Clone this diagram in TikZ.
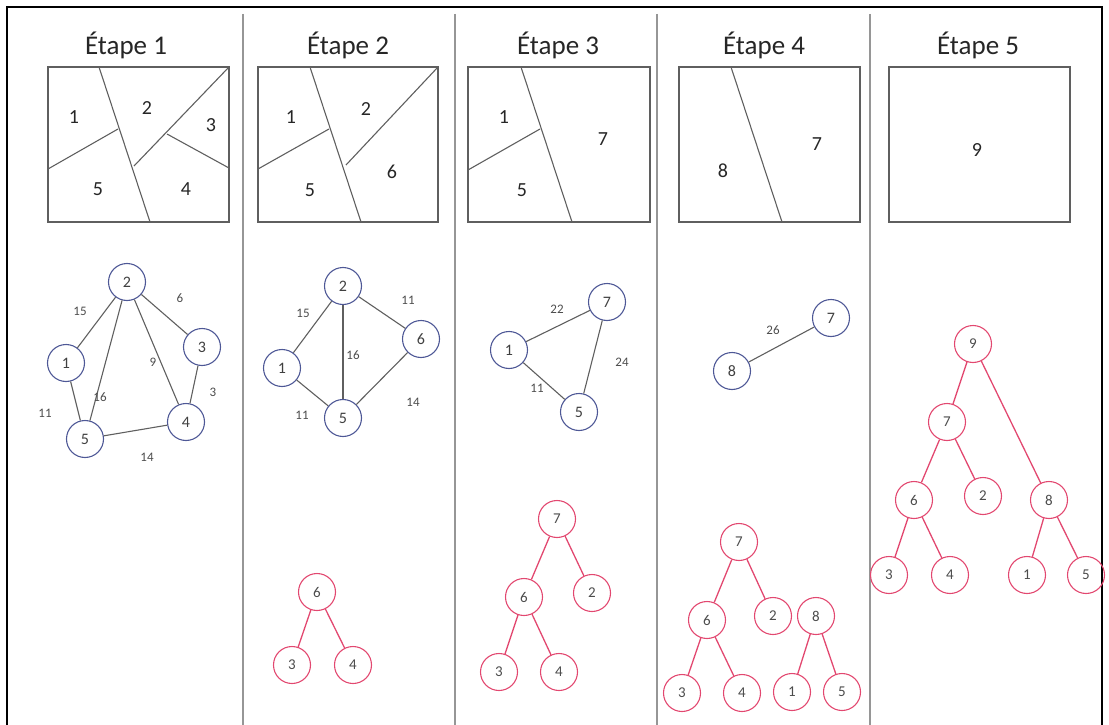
\documentclass[tikz,border=0pt]{standalone}
\usepackage{fontspec}
\setmainfont{Carlito}
\definecolor{bleu}{RGB}{78,88,150}
\definecolor{rose}{RGB}{226,72,112}
\definecolor{trait}{RGB}{95,95,95}
\definecolor{sep}{RGB}{150,150,150}
\tikzset{
  titre/.style={font=\fontsize{27}{30}\selectfont, text=black!85},
  region/.style={font=\fontsize{20}{22}\selectfont, text=black!85},
  carte/.style={draw=trait, line width=1.6pt},
  coupe/.style={draw=trait, line width=1.1pt},
  sommet/.style={circle, draw=bleu, line width=1.1pt, minimum size=37pt, inner sep=0pt, font=\fontsize{16}{18}\selectfont, text=black!75},
  poids/.style={font=\fontsize{13}{15}\selectfont, text=black!70},
  arete/.style={draw=trait, line width=1.1pt},
  feuille/.style={circle, draw=rose, line width=1.1pt, minimum size=37pt, inner sep=0pt, font=\fontsize{15}{17}\selectfont, text=black!70},
  branche/.style={draw=rose, line width=1.3pt}
}
\begin{document}
\begin{tikzpicture}[x=1pt, y=-1pt]
\useasboundingbox (0,0) rectangle (1109,725);
\draw[black, line width=1.4pt] (7,7) rectangle (1102,728);
\foreach \x in {243,455,657,870}
  \draw[sep, line width=2.2pt] (\x,14) -- (\x,725);

\node[titre] (t1) at (126,45) {Étape 1};
\node[titre] (t2) at (348,45) {Étape 2};
\node[titre] (t3) at (558,45) {Étape 3};
\node[titre] (t4) at (764,45) {Étape 4};
\node[titre] (t5) at (978,45) {Étape 5};

% cartes
\draw[carte] (48,67) rectangle (229,222);
\draw[coupe] (99,67) -- (150,222);
\draw[coupe] (48,169) -- (118,129);
\draw[coupe] (229,67) -- (134,166);
\draw[coupe] (167,134) -- (229,168);
\node[region] (r1a) at (74,117) {1};
\node[region] (r1b) at (147,108) {2};
\node[region] (r1c) at (211,125) {3};
\node[region] (r1d) at (186,189) {4};
\node[region] (r1e) at (98,189) {5};

\draw[carte] (258,67) rectangle (438,222);
\draw[coupe] (310,67) -- (361,222);
\draw[coupe] (258,169) -- (329,129);
\draw[coupe] (438,67) -- (346,165);
\node[region] (r2a) at (291,117) {1};
\node[region] (r2b) at (366,109) {2};
\node[region] (r2c) at (310,190) {5};
\node[region] (r2d) at (392,172) {6};

\draw[carte] (468,67) rectangle (650,222);
\draw[coupe] (521,67) -- (572,222);
\draw[coupe] (468,170) -- (540,129);
\node[region] (r3a) at (504,117) {1};
\node[region] (r3b) at (522,190) {5};
\node[region] (r3c) at (603,139) {7};

\draw[carte] (679,67) rectangle (860,222);
\draw[coupe] (731,67) -- (782,222);
\node[region] (r4a) at (723,171) {8};
\node[region] (r4b) at (817,144) {7};

\draw[carte] (889,67) rectangle (1070,222);
\node[region] (r5a) at (977,150) {9};

% graphes
\node[sommet] (a2) at (127,282) {2};
\node[sommet] (a1) at (66,363) {1};
\node[sommet] (a3) at (202,347) {3};
\node[sommet] (a4) at (186,422) {4};
\node[sommet] (a5) at (85,439) {5};
\draw[arete] (a2) -- (a1);
\draw[arete] (a2) -- (a3);
\draw[arete] (a2) -- (a4);
\draw[arete] (a2) -- (a5);
\draw[arete] (a1) -- (a5);
\draw[arete] (a3) -- (a4);
\draw[arete] (a5) -- (a4);
\node[poids] at (80,311) {15};
\node[poids] at (180,298) {6};
\node[poids] at (153,362) {9};
\node[poids] at (100,397) {16};
\node[poids] at (45,413) {11};
\node[poids] at (213,392) {3};
\node[poids] at (147,457) {14};

\node[sommet] (b2) at (343,286) {2};
\node[sommet] (b1) at (282,368) {1};
\node[sommet] (b6) at (421,339) {6};
\node[sommet] (b5) at (343,418) {5};
\draw[arete] (b2) -- (b1);
\draw[arete] (b2) -- (b6);
\draw[arete] (b2) -- (b5);
\draw[arete] (b1) -- (b5);
\draw[arete] (b6) -- (b5);
\node[poids] at (303,313) {15};
\node[poids] at (408,300) {11};
\node[poids] at (353,355) {16};
\node[poids] at (302,415) {11};
\node[poids] at (413,402) {14};

\node[sommet] (c7) at (607,302) {7};
\node[sommet] (c1) at (509,350) {1};
\node[sommet] (c5) at (579,412) {5};
\draw[arete] (c1) -- (c7);
\draw[arete] (c7) -- (c5);
\draw[arete] (c1) -- (c5);
\node[poids] at (557,309) {22};
\node[poids] at (622,362) {24};
\node[poids] at (537,388) {11};

\node[sommet] (d7) at (831,318) {7};
\node[sommet] (d8) at (732,371) {8};
\draw[arete] (d8) -- (d7);
\node[poids] at (773,330) {26};

% arbres
\node[feuille] (e6) at (317,592) {6};
\node[feuille] (e3) at (292,665) {3};
\node[feuille] (e4) at (353,665) {4};
\draw[branche] (e6) -- (e3);
\draw[branche] (e6) -- (e4);

\node[feuille] (f7) at (557,519) {7};
\node[feuille] (f6) at (524,597) {6};
\node[feuille] (f2) at (592,593) {2};
\node[feuille] (f3) at (499,672) {3};
\node[feuille] (f4) at (559,672) {4};
\draw[branche] (f7) -- (f6);
\draw[branche] (f7) -- (f2);
\draw[branche] (f6) -- (f3);
\draw[branche] (f6) -- (f4);

\node[feuille] (g7) at (739,542) {7};
\node[feuille] (g6) at (707,620) {6};
\node[feuille] (g2) at (773,616) {2};
\node[feuille] (g8) at (816,616) {8};
\node[feuille] (g3) at (682,693) {3};
\node[feuille] (g4) at (742,693) {4};
\node[feuille] (g1) at (792,692) {1};
\node[feuille] (g5) at (842,692) {5};
\draw[branche] (g7) -- (g6);
\draw[branche] (g7) -- (g2);
\draw[branche] (g6) -- (g3);
\draw[branche] (g6) -- (g4);
\draw[branche] (g8) -- (g1);
\draw[branche] (g8) -- (g5);

\node[feuille] (h9) at (973,344) {9};
\node[feuille] (h7) at (947,422) {7};
\node[feuille] (h8) at (1049,500) {8};
\node[feuille] (h6) at (914,500) {6};
\node[feuille] (h2) at (983,496) {2};
\node[feuille] (h3) at (889,575) {3};
\node[feuille] (h4) at (950,575) {4};
\node[feuille] (h1) at (1027,575) {1};
\node[feuille] (h5) at (1086,575) {5};
\draw[branche] (h9) -- (h7);
\draw[branche] (h9) -- (h8);
\draw[branche] (h7) -- (h6);
\draw[branche] (h7) -- (h2);
\draw[branche] (h6) -- (h3);
\draw[branche] (h6) -- (h4);
\draw[branche] (h8) -- (h1);
\draw[branche] (h8) -- (h5);
\end{tikzpicture}
\end{document}
